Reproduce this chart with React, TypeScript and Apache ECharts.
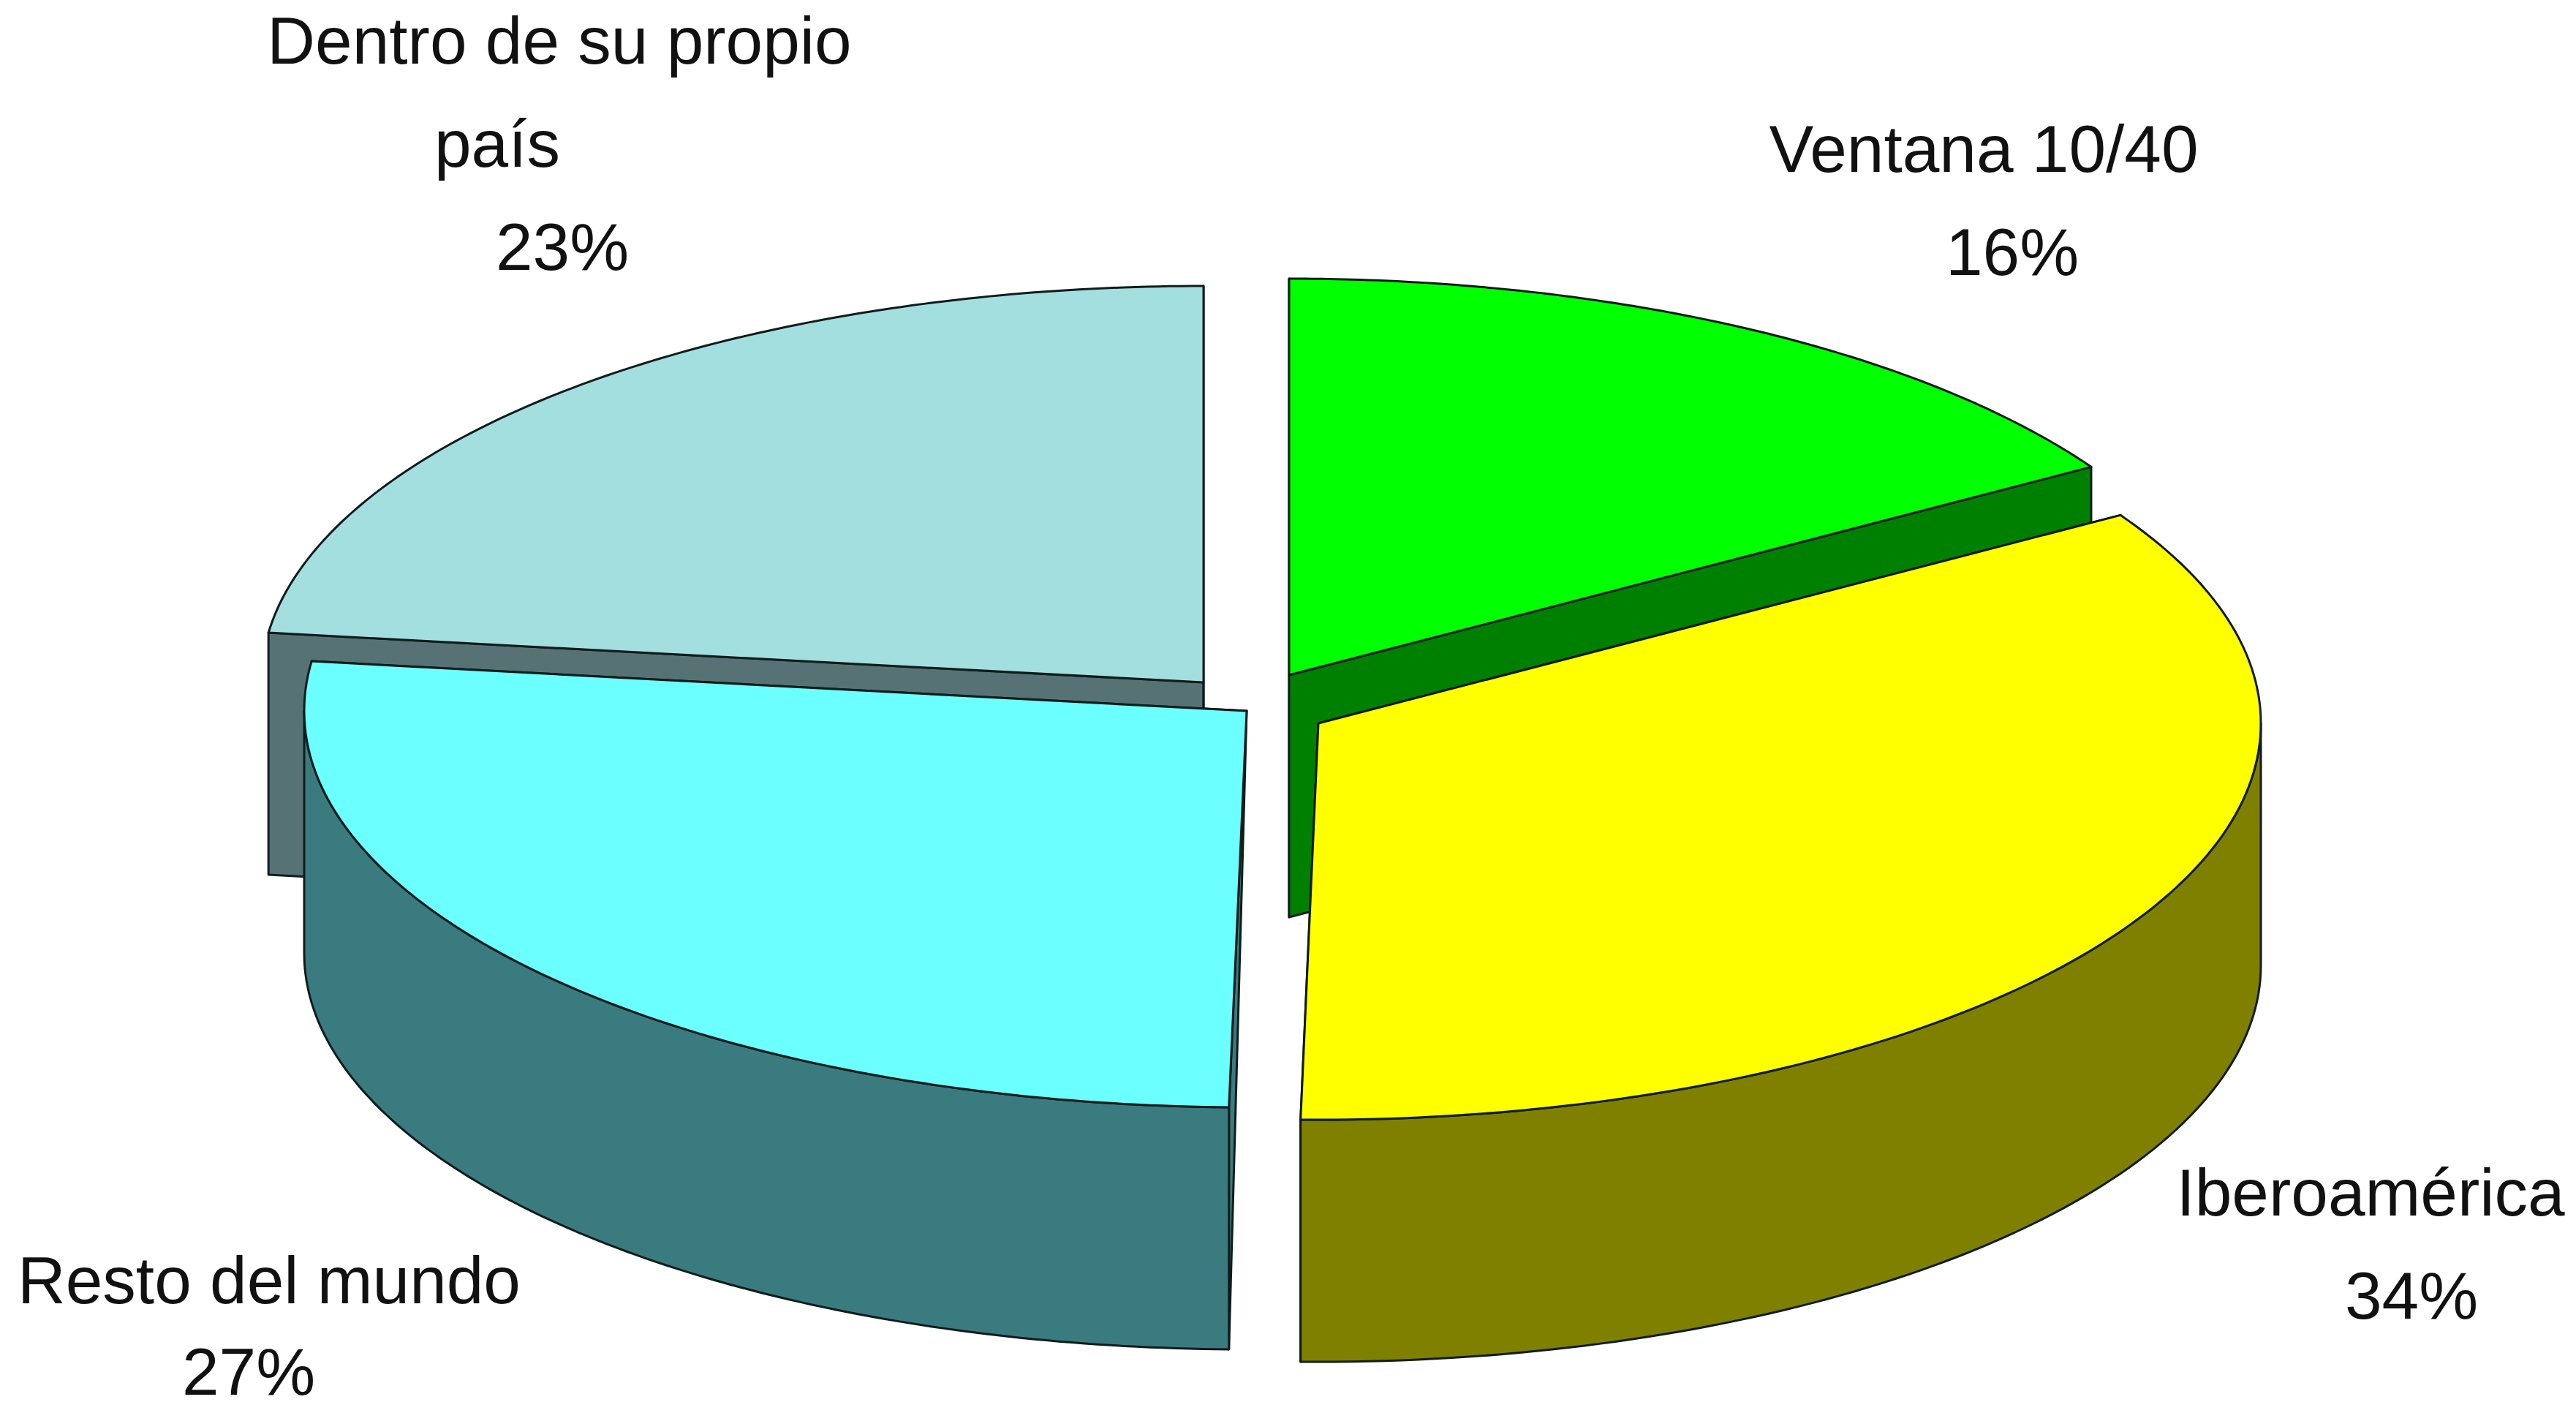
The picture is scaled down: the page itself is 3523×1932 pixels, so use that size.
import React, { useEffect, useRef } from "react";
import * as echarts from "echarts";

const names = ["Ventana 10/40", "Iberoamérica", "Resto del mundo", "Dentro de su propio\npaís"];
const shares = [16.2, 34.1, 26.7, 23.0];
const topColors = ["#00ff00", "#ffff00", "#6bffff", "#a4dfe0"];
const sideColors = ["#008000", "#808000", "#3a7b80", "#567274"];
const apexX = [1763, 1803, 1705, 1646];
const apexY = [923, 989, 972, 933];
const labelLineX = [
  [2713, 2752],
  [3242, 3298],
  [368, 340],
  [765, 680, 769],
];
const labelLineY = [
  [203, 344],
  [1630, 1771],
  [1750, 1875],
  [55, 196, 337],
];
const drawOrder = [3, 0, 2, 1];

const RX = 1289;
const RY = 542;
const DEPTH = 331;
const W = 3523;
const H = 1932;
const FONT = 91;

function startAngle(i: number) {
  let s = 0;
  for (let k = 0; k < i; k++) s += shares[k];
  return (s / 100) * Math.PI * 2;
}

function renderSlice(_: any, api: any) {
  const i = api.value(0);
  const cx = apexX[i];
  const cy = apexY[i];
  const a0 = startAngle(i);
  const a1 = a0 + (api.value(1) / 100) * Math.PI * 2;
  const at = (a: number) => [cx + RX * Math.sin(a), cy - RY * Math.cos(a)];
  const arc: number[][] = [];
  const n = 120;
  for (let k = 0; k <= n; k++) arc.push(at(a0 + ((a1 - a0) * k) / n));
  const stroke = { stroke: "#101c1c", lineWidth: 3, lineJoin: "round" };
  const wall = (pts: number[][], color: string) => ({
    type: "polygon",
    shape: { points: pts },
    style: { fill: color, ...stroke },
  });
  const down = (p: number[]) => [p[0], p[1] + DEPTH];
  const side = sideColors[i];
  const children: any[] = [];
  // A slice that starts just past the front of the pie has walls narrowing to their lower outer corners.
  const tapered = a0 > Math.PI && a0 < Math.PI * 1.5;
  const radial = (p: number[]) =>
    tapered ? [[cx, cy], p, down(p)] : [[cx, cy], p, down(p), [cx, cy + DEPTH]];
  children.push(wall(radial(arc[0]), side));
  children.push(wall(radial(arc[n]), side));
  const visible = arc.filter((_p, k) => {
    const a = a0 + ((a1 - a0) * k) / n;
    return a >= Math.PI / 2 && a <= (Math.PI * 3) / 2;
  });
  if (visible.length > 1) {
    children.push(wall([...visible, ...visible.slice().reverse().map(down)], side));
  }
  children.push(wall([[cx, cy], ...arc], topColors[i]));
  const lines = names[i].split("\n");
  [...lines, Math.round(api.value(1)) + "%"].forEach((t, k) => {
    children.push({
      type: "text",
      x: labelLineX[i][k],
      y: labelLineY[i][k],
      style: {
        text: t,
        fill: "#111111",
        font: `${FONT}px "Liberation Sans", Arial, sans-serif`,
        align: "center",
        verticalAlign: "middle",
      },
    });
  });
  return { type: "group", children };
}

export default function App() {
  const ref = useRef<HTMLDivElement>(null);
  useEffect(() => {
    const chart = echarts.init(ref.current!, undefined, { renderer: "svg" });
    chart.setOption({
      animation: false,
      backgroundColor: "#ffffff",
      series: [
        {
          type: "custom",
          coordinateSystem: "none",
          renderItem: renderSlice,
          silent: true,
          clip: false,
          data: drawOrder.map((i) => [i, shares[i]]),
        },
      ],
    });
    return () => chart.dispose();
  }, []);
  return <div ref={ref} style={{ position: "absolute", left: 0, top: 0, width: W, height: H }} />;
}
